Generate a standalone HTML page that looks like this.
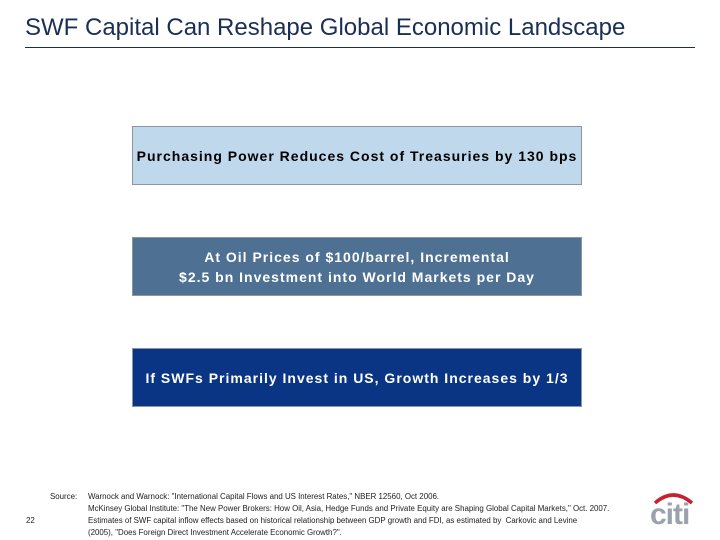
<!DOCTYPE html>
<html><head><meta charset="utf-8"><style>
body{margin:0;width:720px;height:540px;background:#fff;position:relative;overflow:hidden;font-family:"Liberation Sans",sans-serif}
.t{position:absolute;left:25px;top:14px;font-size:24px;color:#1a2f55;white-space:nowrap}
.rule{position:absolute;left:25px;top:47px;width:670px;height:1px;background:#1a2f55}
.box{position:absolute;left:132px;width:448px;height:57px;border:1px solid #8a96a4;display:flex;align-items:center;justify-content:center;text-align:center;font-weight:bold;font-size:14px;letter-spacing:1px;line-height:20px}
.fn{position:absolute;font-size:7.9px;color:#222;white-space:nowrap;line-height:12px}
</style></head><body>
<div class="t">SWF Capital Can Reshape Global Economic Landscape</div>
<div class="rule"></div>
<div class="box" style="top:126px;background:#c0d8ec;color:#000">Purchasing Power Reduces Cost of Treasuries by 130 bps</div>
<div class="box" style="top:237px;background:#4e7092;color:#fff">At Oil Prices of $100/barrel, Incremental<br>$2.5 bn Investment into World Markets per Day</div>
<div class="box" style="top:348px;background:#0a3585;color:#fff">If SWFs Primarily Invest in US, Growth Increases by 1/3</div>
<div class="fn" style="left:50px;top:491px">Source:</div>
<div class="fn" style="left:88px;top:491px">Warnock and Warnock: "International Capital Flows and US Interest Rates," NBER 12560, Oct 2006.<br>McKinsey Global Institute: "The New Power Brokers: How Oil, Asia, Hedge Funds and Private Equity are Shaping Global Capital Markets," Oct. 2007.<br>Estimates of SWF capital inflow effects based on historical relationship between GDP growth and FDI, as estimated by&nbsp; Carkovic and Levine<br>(2005), "Does Foreign Direct Investment Accelerate Economic Growth?".</div>
<div class="fn" style="left:26px;top:515px">22</div>
<svg style="position:absolute;left:646px;top:490px" width="50" height="38">
<path d="M9 13 Q27 -3 46 13" stroke="#c8202f" stroke-width="3.5" fill="none"/>
<text x="4" y="34" font-family="Liberation Sans,sans-serif" font-size="30" font-weight="bold" fill="#9aa3ad" letter-spacing="-1">citi</text>
</svg>
</body></html>
